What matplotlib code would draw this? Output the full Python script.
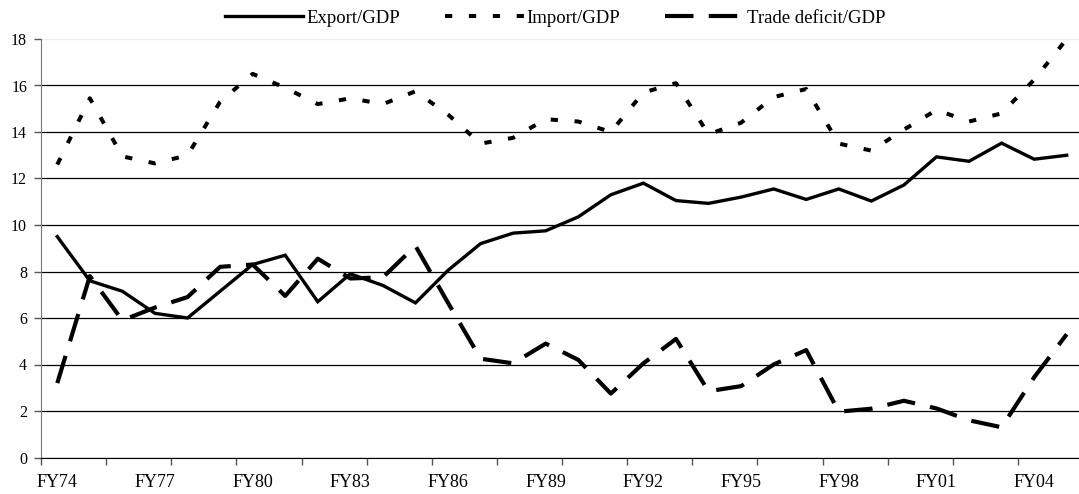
import numpy as np
import matplotlib as mpl
mpl.use("Agg")
import matplotlib.pyplot as plt

years = ["FY%02d" % (y % 100) for y in range(1974, 2006)]

export_gdp = [9.5, 7.6, 7.15, 6.2, 6.0, 7.15, 8.3, 8.7, 6.7, 7.9,
              7.4, 6.65, 8.05, 9.2, 9.65, 9.75, 10.35, 11.3, 11.8, 11.05,
              10.93, 11.2, 11.55, 11.1, 11.55, 11.03, 11.72, 12.93, 12.74, 13.52,
              12.83, 13.0]
import_gdp = [12.6, 15.45, 12.95, 12.65, 13.0, 15.3, 16.5, 15.9, 15.2, 15.45,
              15.2, 15.75, 14.75, 13.5, 13.75, 14.55, 14.45, 14.0, 15.7, 16.1,
              13.9, 14.4, 15.5, 15.85, 13.5, 13.2, 14.1, 14.95, 14.45, 14.8,
              16.25, 18.0]
deficit_gdp = [3.2, 7.8, 5.9, 6.45, 6.9, 8.2, 8.3, 6.95, 8.55, 7.7,
               7.75, 9.1, 6.65, 4.25, 4.05, 4.9, 4.2, 2.75, 4.05, 5.1,
               2.85, 3.07, 4.0, 4.62, 1.97, 2.1, 2.44, 2.11, 1.6, 1.3,
               3.45, 5.3]

label_every = 3
y_ticks = list(range(0, 19, 2))

mpl.rcParams['font.family'] = ['Liberation Serif', 'DejaVu Serif']
mpl.rcParams['lines.scale_dashes'] = False

W, H = 1079, 494
fig = plt.figure(figsize=(W / 100, H / 100), dpi=100)
ax = fig.add_axes([41 / W, (H - 457.5) / H, (1083 - 41) / W, (457.5 - 39) / H])

x = np.arange(len(years))
ax.plot(x, export_gdp, color='black', lw=2.4, solid_joinstyle='miter',
        label='Export/GDP')
ax.plot(x, import_gdp, color='black', lw=2.9, dashes=(5.2, 12.0),
        label='Import/GDP')
ax.plot(x, deficit_gdp, color='black', lw=3.0, dashes=(20.5, 11.0),
        label='Trade deficit/GDP')

ax.set_xlim(-0.5, len(years) - 0.5)
ax.set_ylim(0, 18)

ax.set_xticks(x[::label_every])
ax.set_xticklabels(years[::label_every], fontsize=13)
ax.set_xticks(np.arange(-0.5, len(years), 2), minor=True)
ax.tick_params(axis='x', which='major', length=0, pad=12)
ax.tick_params(axis='x', which='minor', length=5, width=1, color='#555555')

ax.set_yticks(y_ticks)
ax.tick_params(axis='y', which='major', labelsize=11.5, length=5, width=1,
               color='#555555', pad=5)

ax.yaxis.grid(True, color='black', lw=0.9)
gl = ax.get_ygridlines()
gl[-1].set_color('#ececec')
ax.set_axisbelow(True)

for s in ['top', 'right']:
    ax.spines[s].set_visible(False)
ax.spines['left'].set_color('#777777')
ax.spines['bottom'].set_color('black')

fig.legend(loc='center', bbox_to_anchor=(555 / W, 1 - 18 / H), ncol=3,
           frameon=False, fontsize=13.5, handlelength=4.2, handletextpad=0.15,
           columnspacing=2.4)

fig.savefig('out.png', dpi=100)
